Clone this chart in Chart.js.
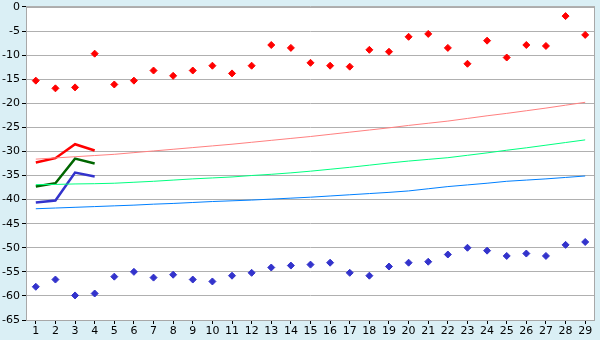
<!DOCTYPE html>
<html>
<head>
<meta charset="utf-8">
<script src="https://cdn.jsdelivr.net/npm/chart.js@4"></script>
<style>
  html, body { margin: 0; padding: 0; background: #daeff5; }
  #wrap { width: 600px; height: 340px; }
</style>
</head>
<body>
<div id="wrap"><canvas id="myChart" width="600" height="340"></canvas></div>
<script>
const categories = ["1","2","3","4","5","6","7","8","9","10","11","12","13","14","15",
  "16","17","18","19","20","21","22","23","24","25","26","27","28","29"];

// scatter points
const redPoints = [-15.3, -16.9, -16.7, -9.7, -16.1, -15.3, -13.2, -14.3, -13.2, -12.2,
  -13.8, -12.2, -7.9, -8.5, -11.6, -12.2, -12.4, -8.9, -9.3, -6.2,
  -5.6, -8.5, -11.8, -7.0, -10.5, -7.9, -8.1, -1.9, -5.8];
const bluePoints = [-58.1, -56.6, -59.9, -59.5, -56.0, -55.0, -56.2, -55.6, -56.6, -57.0,
  -55.8, -55.2, -54.1, -53.7, -53.5, -53.1, -55.2, -55.8, -53.9, -53.1,
  -52.9, -51.4, -50.0, -50.6, -51.7, -51.2, -51.7, -49.4, -48.8];

// short thick lines (first 4 categories)
const redThick = [-32.3, -31.4, -28.5, -29.8];
const greenThick = [-37.3, -36.6, -31.5, -32.5];
const blueThick = [-40.6, -40.2, -34.4, -35.2];

// thin trend lines
const redThin = [-31.6, -31.35, -31.1, -30.85, -30.6, -30.25, -29.9, -29.55, -29.2, -28.85,
  -28.5, -28.1, -27.7, -27.3, -26.9, -26.45, -26.0, -25.55, -25.1, -24.6,
  -24.15, -23.7, -23.15, -22.6, -22.1, -21.55, -21.0, -20.4, -19.8];
const greenThin = [-36.9, -36.85, -36.75, -36.7, -36.6, -36.4, -36.2, -35.95, -35.7, -35.5,
  -35.3, -35.0, -34.75, -34.45, -34.1, -33.7, -33.3, -32.85, -32.4, -32.0,
  -31.65, -31.3, -30.8, -30.3, -29.75, -29.25, -28.7, -28.15, -27.6];
const blueThin = [-41.9, -41.75, -41.6, -41.45, -41.3, -41.15, -40.95, -40.8, -40.6, -40.4,
  -40.25, -40.1, -39.9, -39.7, -39.5, -39.25, -39.0, -38.75, -38.5, -38.2,
  -37.75, -37.3, -36.95, -36.6, -36.2, -35.95, -35.7, -35.4, -35.1];

const yMin = -65, yMax = 0, yStep = 5;

// white plot area on the light blue background
const plotBackground = {
  id: "plotBackground",
  beforeDraw(chart) {
    const { ctx, chartArea } = chart;
    ctx.save();
    ctx.fillStyle = "#daeff5";
    ctx.fillRect(0, 0, chart.width, chart.height);
    ctx.fillStyle = "#ffffff";
    ctx.fillRect(chartArea.left, chartArea.top, chartArea.right - chartArea.left, chartArea.bottom - chartArea.top);
    ctx.restore();
  },
  afterDraw(chart) {
    const { ctx, chartArea } = chart;
    ctx.save();
    ctx.strokeStyle = "#a8a8a8";
    ctx.lineWidth = 1;
    ctx.strokeRect(chartArea.left + 0.5, chartArea.top + 0.5, chartArea.right - chartArea.left - 1, chartArea.bottom - chartArea.top);
    ctx.restore();
  },
};

function lineSet(data, color, width) {
  return {
    data: data,
    borderColor: color,
    backgroundColor: color,
    borderWidth: width,
    pointRadius: 0,
    tension: 0,
    fill: false,
  };
}

function pointSet(data, color) {
  return {
    data: data,
    showLine: false,
    borderColor: color,
    backgroundColor: color,
    pointStyle: "rectRot",
    pointRadius: 3.5,
    pointBorderWidth: 1,
  };
}

const ctx = document.getElementById("myChart").getContext("2d");
new Chart(ctx, {
  type: "line",
  data: {
    labels: categories,
    datasets: [
      lineSet(redThin, "#ff8080", 1),
      lineSet(greenThin, "#00ff80", 1),
      lineSet(blueThin, "#0080ff", 1),
      lineSet(redThick, "#ff0000", 2.5),
      lineSet(greenThick, "#006600", 2.5),
      lineSet(blueThick, "#3333cc", 2.5),
      pointSet(redPoints, "#ff0000"),
      pointSet(bluePoints, "#3333cc"),
    ],
  },
  options: {
    responsive: false,
    animation: false,
    layout: { padding: { top: 0, right: 5, left: 0, bottom: 0 } },
    plugins: {
      legend: { display: false },
      tooltip: { enabled: false },
    },
    scales: {
      x: {
        offset: true,
        grid: {
          drawOnChartArea: false,
          drawTicks: true,
          tickLength: 4,
          tickColor: "#000000",
          offset: false,
        },
        border: { display: false },
        ticks: {
          color: "#000000",
          font: { family: "DejaVu Sans", size: 11 },
          padding: 1,
          maxRotation: 0,
          autoSkip: false,
        },
        afterFit(scale) { scale.height = 20; },
      },
      y: {
        min: yMin,
        max: yMax,
        grid: {
          color: "#b0b0b0",
          drawTicks: true,
          tickLength: 4,
          tickColor: "#000000",
        },
        border: { display: false },
        ticks: {
          stepSize: yStep,
          color: "#000000",
          font: { family: "DejaVu Sans", size: 11, lineHeight: 0.9 },
          padding: 2,
        },
        afterFit(scale) { scale.width = 26; },
      },
    },
  },
  plugins: [plotBackground],
});
</script>
</body>
</html>
